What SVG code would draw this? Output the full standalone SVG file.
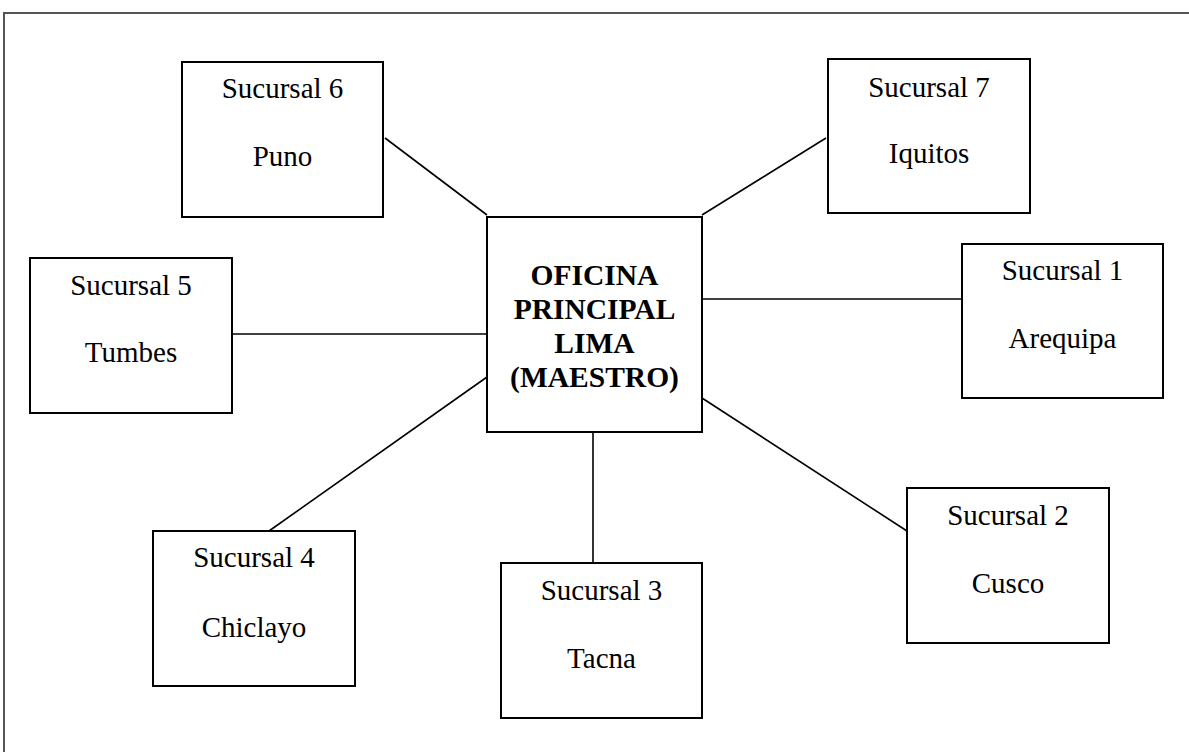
<svg xmlns="http://www.w3.org/2000/svg" width="1189" height="752" viewBox="0 0 1189 752">
<style>
.box{fill:#fff;stroke:#000;stroke-width:2}
.t{font-family:"Liberation Serif","Times New Roman",serif;font-size:29px;fill:#000;text-anchor:middle}
.b{font-weight:bold;font-size:29.5px}
.c{stroke:#000;stroke-width:1.6;fill:none}
.frame{stroke:#555;stroke-width:2;fill:none}
</style>
<rect width="1189" height="752" fill="#fff"/>
<path class="frame" d="M4,752 V13 H1189"/>
<g id="connectors">
<line class="c" x1="385" y1="138" x2="487" y2="215"/>
<line class="c" x1="702" y1="215" x2="826" y2="138"/>
<line class="c" x1="702" y1="299" x2="962" y2="299"/>
<line class="c" x1="232" y1="334" x2="487" y2="334"/>
<line class="c" x1="487" y1="377" x2="269" y2="531"/>
<line class="c" x1="593" y1="432" x2="593" y2="563"/>
<line class="c" x1="702" y1="398" x2="907" y2="531"/>
</g>
<g id="main">
<rect class="box" x="487" y="217" width="215" height="215"/>
<text class="t b" x="594.5" y="285">OFICINA</text>
<text class="t b" x="594.5" y="319">PRINCIPAL</text>
<text class="t b" x="594.5" y="353">LIMA</text>
<text class="t b" x="594.5" y="387">(MAESTRO)</text>
</g>
<g id="s6">
<rect class="box" x="182" y="62" width="201" height="155"/>
<text class="t" x="282.5" y="98">Sucursal 6</text>
<text class="t" x="282.5" y="166">Puno</text>
</g>
<g id="s7">
<rect class="box" x="828" y="59" width="202" height="154"/>
<text class="t" x="929" y="97">Sucursal 7</text>
<text class="t" x="929" y="163">Iquitos</text>
</g>
<g id="s1">
<rect class="box" x="962" y="244" width="201" height="154"/>
<text class="t" x="1062.5" y="280">Sucursal 1</text>
<text class="t" x="1062.5" y="348">Arequipa</text>
</g>
<g id="s5">
<rect class="box" x="30" y="258" width="202" height="155"/>
<text class="t" x="131" y="295">Sucursal 5</text>
<text class="t" x="131" y="362">Tumbes</text>
</g>
<g id="s4">
<rect class="box" x="153" y="531" width="202" height="155"/>
<text class="t" x="254" y="567">Sucursal 4</text>
<text class="t" x="254" y="637">Chiclayo</text>
</g>
<g id="s3">
<rect class="box" x="501" y="563" width="201" height="155"/>
<text class="t" x="601.5" y="600">Sucursal 3</text>
<text class="t" x="601.5" y="668">Tacna</text>
</g>
<g id="s2">
<rect class="box" x="907" y="488" width="202" height="155"/>
<text class="t" x="1008" y="525">Sucursal 2</text>
<text class="t" x="1008" y="593">Cusco</text>
</g>
</svg>
